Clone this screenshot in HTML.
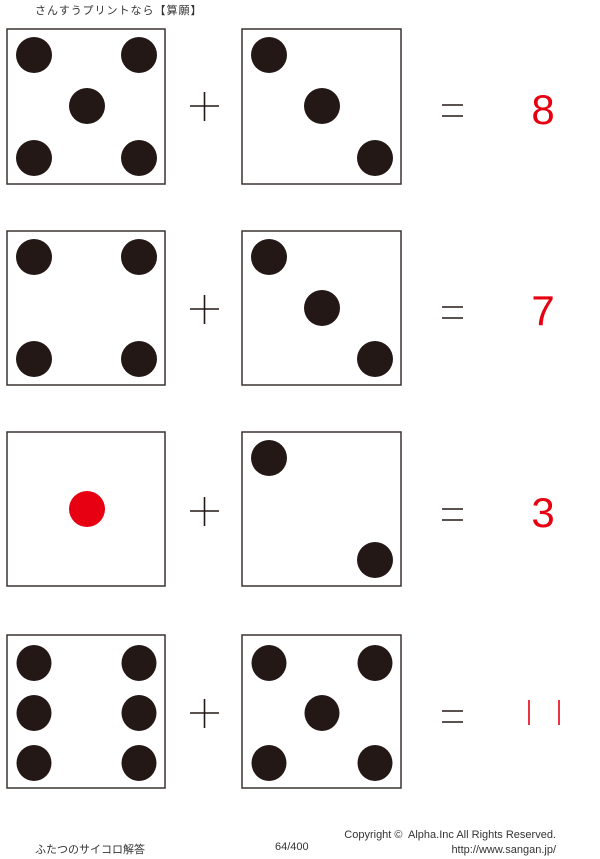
<!DOCTYPE html>
<html><head><meta charset="utf-8"><style>
body{margin:0;width:600px;height:859px;background:#fff;overflow:hidden;position:relative;font-family:"Liberation Sans","Noto Sans CJK JP",sans-serif}
.t{position:absolute;font-size:11px;color:#333;white-space:nowrap}
</style></head><body>
<div class="t" style="left:35px;top:2px;letter-spacing:1px">さんすうプリントなら【算願】</div>
<svg width="600" height="859" style="position:absolute;left:0;top:0">
<g fill="none" stroke="#3a3330" stroke-width="1.5">
<rect x="7" y="29" width="158" height="155"/><rect x="242" y="29" width="159" height="155"/>
<rect x="7" y="231" width="158" height="154"/><rect x="242" y="231" width="159" height="154"/>
<rect x="7" y="432" width="158" height="154"/><rect x="242" y="432" width="159" height="154"/>
<rect x="7" y="635" width="158" height="153"/><rect x="242" y="635" width="159" height="153"/>
</g>
<g fill="#231815">
<circle cx="34" cy="55" r="18"/><circle cx="139" cy="55" r="18"/><circle cx="87" cy="106" r="18"/><circle cx="34" cy="158" r="18"/><circle cx="139" cy="158" r="18"/>
<circle cx="269" cy="55" r="18"/><circle cx="322" cy="106" r="18"/><circle cx="375" cy="158" r="18"/>
<circle cx="34" cy="257" r="18"/><circle cx="139" cy="257" r="18"/><circle cx="34" cy="359" r="18"/><circle cx="139" cy="359" r="18"/>
<circle cx="269" cy="257" r="18"/><circle cx="322" cy="308" r="18"/><circle cx="375" cy="359" r="18"/>
<circle cx="269" cy="458" r="18"/><circle cx="375" cy="560" r="18"/>
<ellipse cx="34" cy="663" rx="17.5" ry="18"/><ellipse cx="139" cy="663" rx="17.5" ry="18"/>
<ellipse cx="34" cy="713" rx="17.5" ry="18"/><ellipse cx="139" cy="713" rx="17.5" ry="18"/>
<ellipse cx="34" cy="763" rx="17.5" ry="18"/><ellipse cx="139" cy="763" rx="17.5" ry="18"/>
<ellipse cx="269" cy="663" rx="17.5" ry="18"/><ellipse cx="375" cy="663" rx="17.5" ry="18"/>
<ellipse cx="322" cy="713" rx="17.5" ry="18"/>
<ellipse cx="269" cy="763" rx="17.5" ry="18"/><ellipse cx="375" cy="763" rx="17.5" ry="18"/>
</g>
<circle cx="87" cy="509" r="18" fill="#e60012"/>
<g stroke="#231815" stroke-width="1.6">
<path d="M190 106h29M204.5 92v29"/><path d="M190 309h29M204.5 295v29"/><path d="M190 511h29M204.5 497v29"/><path d="M190 713h29M204.5 699v29"/>
<path d="M442 105h21M442 116h21"/><path d="M442 307h21M442 318h21"/><path d="M442 509h21M442 520h21"/><path d="M442 711h21M442 722h21"/>
</g>
<g stroke="#e60012" stroke-width="1.6" fill="none">
<path d="M529 700v25M559 700v25"/>
</g>
<g fill="#e60012" font-family="Liberation Sans, sans-serif" font-size="42" text-anchor="middle">
<text x="543" y="124">8</text><text x="543" y="325">7</text><text x="543" y="527">3</text>
</g>
</svg>
<div class="t" style="left:35px;top:841px">ふたつのサイコロ解答</div>
<div class="t" style="left:275px;top:841px">64/400</div>
<div class="t" style="right:44px;top:829px">Copyright ©&nbsp; Alpha.Inc All Rights Reserved.</div>
<div class="t" style="right:44px;top:844px">http://www.sangan.jp/</div>
</body></html>
